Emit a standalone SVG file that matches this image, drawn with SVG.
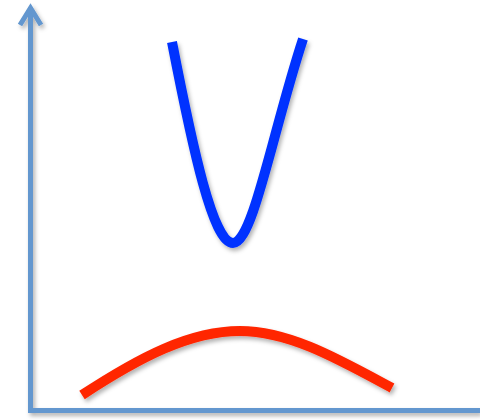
<svg xmlns="http://www.w3.org/2000/svg" width="480" height="420" viewBox="0 0 480 420">
<defs>
<style>
.axis{fill:none;stroke:#6397cf;stroke-width:5}
.curve{fill:none;stroke-width:10}
</style>
<filter id="sh" x="-10%" y="-10%" width="130%" height="130%">
<feDropShadow dx="2" dy="3" stdDeviation="2" flood-color="#000" flood-opacity="0.3"/>
</filter>
</defs>
<rect width="480" height="420" fill="#fff"/>
<g id="axes" filter="url(#sh)">
<path class="axis" d="M30.5,7 V410.5 H480"/>
<path class="axis" d="M20,25 L30.5,8 L41,25" stroke-linejoin="miter"/>
</g>
<g id="blue-curve" filter="url(#sh)">
<path class="curve" stroke="#0433ff" d="M172,42 C193,150 213,243 233,243 C253,243 273,130 303,39"/>
</g>
<g id="red-curve" filter="url(#sh)">
<path class="curve" stroke="#ff2600" d="M82,395 C140,357 190,331 240,331 C290,331 340,360 392,388"/>
</g>
</svg>
